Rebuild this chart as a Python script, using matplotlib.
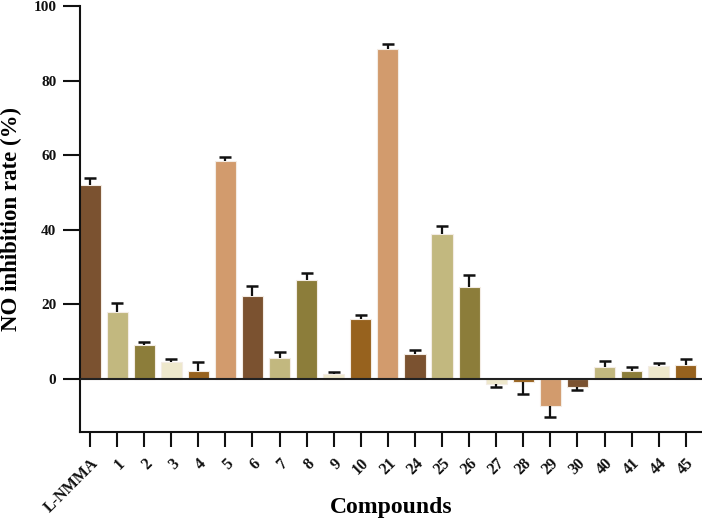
import matplotlib
matplotlib.use("Agg")
import matplotlib.pyplot as plt
import numpy as np

categories = ["L-NMMA", "1", "2", "3", "4", "5", "6", "7", "8", "9", "10", "21",
              "24", "25", "26", "27", "28", "29", "30", "40", "41", "44", "45"]
values = [52.0, 17.9, 9.1, 4.5, 2.1, 58.4, 22.3, 5.6, 26.5, 1.3, 16.0, 88.6,
          6.8, 39.0, 24.6, -1.2, -0.9, -7.1, -2.1, 3.1, 2.1, 3.4, 3.8]
errors = [2.0, 2.6, 0.7, 1.0, 2.4, 1.2, 2.6, 1.6, 1.8, 0.5, 1.2, 1.2,
          0.9, 2.1, 3.4, 0.9, 3.2, 3.2, 0.9, 1.6, 1.1, 0.8, 1.6]
palette = ["#7B5230", "#C2B87F", "#8C7D3A", "#EEE8CC", "#97621E", "#D29B6D"]

plt.rcParams['font.family'] = ['Liberation Serif', 'DejaVu Serif']
plt.rcParams['font.weight'] = 'bold'

fig = plt.figure(figsize=(7.02, 5.21), dpi=100)
ax = fig.add_axes([80/702, 1-432/521, 1-80/702, (432-6)/521])

x = np.arange(len(categories))
vals = np.array(values)
errs = np.array(errors)
colors = [palette[i % len(palette)] for i in range(len(categories))]

ax.bar(x, vals, width=0.78, color=colors, edgecolor='#f3ece4', linewidth=0.8, zorder=2)
# one-sided error bars: upward for positive, downward for negative bars
ends = np.where(vals >= 0, vals + errs, vals - errs)
ax.vlines(x, vals, ends, color='#111111', linewidth=1.6, zorder=3)
ax.plot(x, ends, linestyle='none', marker='_', markersize=8.5,
        markeredgewidth=1.8, color='#111111', zorder=3)

ax.axhline(0, color='#222222', linewidth=1.5, zorder=4)

ax.set_xlim(-0.37, 22.6)
ax.set_ylim(-14.2, 100)
ax.set_yticks([0, 20, 40, 60, 80, 100])
ax.set_xticks(x)
ax.set_xticklabels(categories, rotation=45, ha='right', rotation_mode='anchor',
                   fontsize=11.5, fontweight='bold')
for lab in ax.get_yticklabels():
    lab.set_fontsize(11)
    lab.set_fontweight('bold')

for s in ['top', 'right']:
    ax.spines[s].set_visible(False)
for s in ['left', 'bottom']:
    ax.spines[s].set_linewidth(1.5)
    ax.spines[s].set_color('#111111')
ax.tick_params(axis='y', length=12, width=1.5, pad=5, colors='#111111')
ax.tick_params(axis='x', length=11, width=1.5, pad=6, colors='#111111')

ax.set_ylabel("NO inhibition rate (%)", fontsize=16.5, fontweight='bold', labelpad=8)
ax.set_xlabel("Compounds", fontsize=17, fontweight='bold', va='center')
ax.xaxis.set_label_coords(0.5, -(508 - 432) / 426)

fig.savefig("out.png", dpi=100)
